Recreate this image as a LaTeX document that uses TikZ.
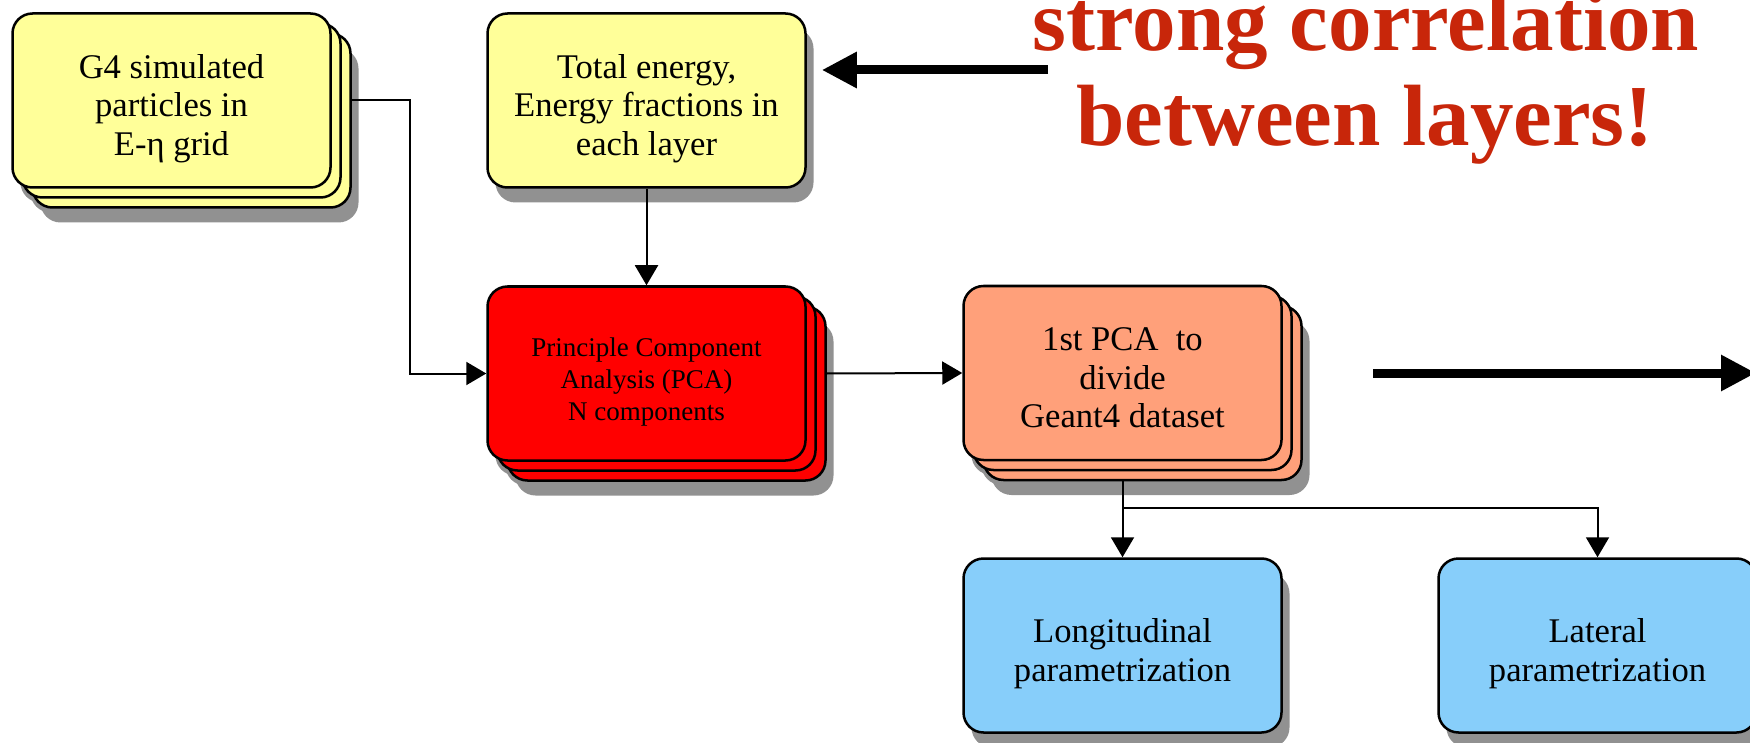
\documentclass[tikz,border=0pt]{standalone}
\usepackage{fontspec}
\setmainfont{Liberation Serif}
\usetikzlibrary{arrows.meta}
\definecolor{boxyellow}{RGB}{255,255,153}
\definecolor{boxred}{RGB}{255,0,0}
\definecolor{boxorange}{RGB}{255,160,122}
\definecolor{boxblue}{RGB}{135,206,250}
\definecolor{shadowgray}{RGB}{145,145,145}
\definecolor{titlered}{RGB}{200,38,10}
\tikzset{
  card/.style={draw=black, line width=2.5pt, rounded corners=20pt,
    minimum width=318pt, minimum height=174pt, inner sep=0pt},
  cardshadow/.style={fill=shadowgray, rounded corners=20pt,
    minimum width=318pt, minimum height=174pt, inner sep=0pt},
  cardtext/.style={align=center, inner sep=0pt, text=black, yshift=-8pt,
    font=\fontsize{34.6}{38.5}\selectfont},
  smalltext/.style={align=center, inner sep=0pt, text=black, yshift=-8.5pt,
    font=\fontsize{27}{31.7}\selectfont},
  conn/.style={draw=black, line width=2pt, -{Triangle[length=20pt,width=23pt]}},
  bigarrow/.style={draw=black, line width=9pt, -{Triangle[length=35pt,width=34pt]}},
  titletext/.style={text=titlered, inner sep=0pt,
    font=\bfseries\fontsize{87}{98}\selectfont},
}
\newcommand{\stackcard}[4]{% name, x, y, colour
  \node[cardshadow] (#1s2) at (#2+28,#3+35) {};
  \node[cardshadow] (#1s1) at (#2+18,#3+25) {};
  \node[cardshadow] (#1s0) at (#2+8,#3+15) {};
  \node[card, fill=#4] (#1c) at (#2+20,#3+20) {};
  \node[card, fill=#4] (#1b) at (#2+10,#3+10) {};
  \node[card, fill=#4] (#1) at (#2,#3) {};
}
\newcommand{\singlecard}[4]{% name, x, y, colour
  \node[cardshadow] (#1s0) at (#2+8,#3+15) {};
  \node[card, fill=#4] (#1) at (#2,#3) {};
}
\begin{document}
\begin{tikzpicture}[x=1pt,y=-1pt]
\useasboundingbox (0,0) rectangle (1750,743);
\clip (0,0) rectangle (1750,743);
\fill[white] (0,0) rectangle (1750,743);

% boxes
\stackcard{g4}{171.5}{100.5}{boxyellow}
\node[cardtext] (g4t) at (g4) {\vphantom{lg}G4 simulated\\particles in\\E-η grid\vphantom{lg}};

\singlecard{te}{646.5}{100.5}{boxyellow}
\node[cardtext] (tet) at (te) {\vphantom{lg}Total energy,\\Energy fractions in\\each layer\vphantom{lg}};

\stackcard{pca}{646.5}{373.5}{boxred}
\node[smalltext] (pcat) at (pca) {\vphantom{lg}Principle Component\\Analysis (PCA)\\N components\vphantom{lg}};

\stackcard{pcaone}{1122.5}{373}{boxorange}
\node[cardtext] (pcaonet) at (pcaone) {\vphantom{lg}1st PCA~ to\\divide\\Geant4 dataset\vphantom{lg}};

\singlecard{long}{1122.5}{645.5}{boxblue}
\node[cardtext] (longt) at (long) {\vphantom{lg}Longitudinal\\parametrization\vphantom{lg}};

\singlecard{lat}{1597.5}{645.5}{boxblue}
\node[cardtext] (latt) at (lat) {\vphantom{lg}Lateral\\parametrization\vphantom{lg}};

% title
\node[titletext, anchor=base] (title1) at (1366,51) {strong correlation};
\node[titletext, anchor=base] (title2) at (1365,146) {between layers!};

% connectors
\draw[conn] (g4.center -| g4c.east) -- ++(58,0) |- (pca.west);
\draw[conn] (te.south) -- (pca.north);
\draw[conn] (pca.center -| pcac.east) -- (pcaone.west);
\draw[conn] (pcaone.center |- pcaonec.south) -- (long.north);
\coordinate (split) at (pcaone.center |- 0,508);
\draw[conn] (split) -| (lat.north);

% big arrows
\coordinate (bigLstart) at (1048,70);
\draw[bigarrow, shorten >=15pt] (bigLstart) -- (bigLstart -| te.east);
\coordinate (bigRstart) at (1373,373);
\coordinate (bigRend) at (1756,373);
\draw[bigarrow] (bigRstart) -- (bigRend);
\end{tikzpicture}
\end{document}
